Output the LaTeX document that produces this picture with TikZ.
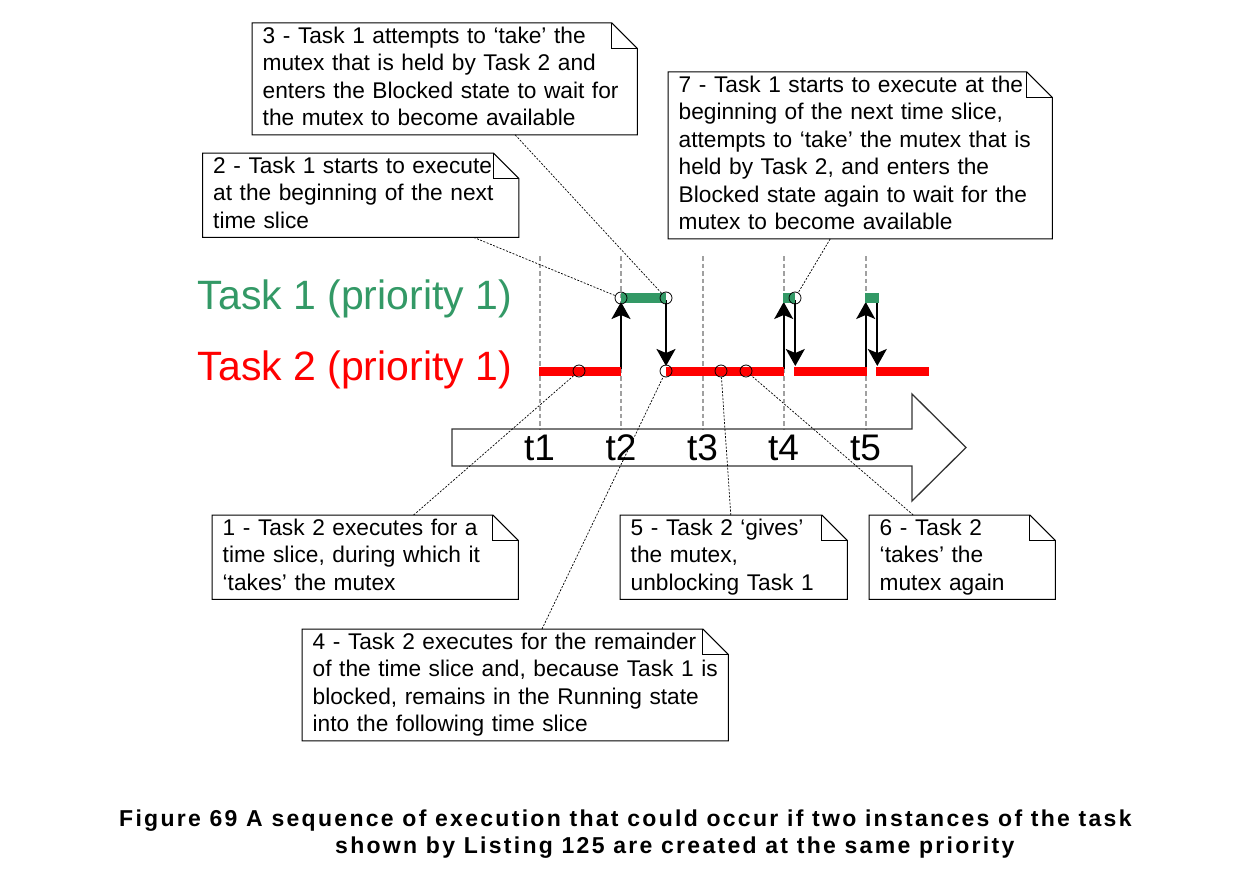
\documentclass[tikz,border=0pt]{standalone}
\usepackage{fontspec}
\setmainfont{Liberation Sans}
\newfontfamily\capfont[LetterSpace=10]{Liberation Sans}
\usetikzlibrary{arrows.meta,calc}
\definecolor{tgreen}{HTML}{339966}
\definecolor{tred}{HTML}{FF0000}
\definecolor{tgray}{HTML}{A0A0A0}
\begin{document}
\begin{tikzpicture}[x=1pt,y=-1pt,
  note/.style={draw=none, fill=white, anchor=north west, inner xsep=10.5pt, inner ysep=0.75pt,
    align=left, font=\fontsize{22.7}{27.5}\selectfont},
  noteline/.style={draw=black, line width=1pt, line join=miter},
  conn/.style={draw=black, line width=0.7pt, dash pattern=on 2pt off 1.5pt},
  tline/.style={draw=tgray, line width=2pt, dash pattern=on 4.5pt off 3pt},
  dot/.style={circle, draw=black, line width=0.8pt, minimum size=12pt, inner sep=0pt},
  arr/.style={draw=black, line width=2pt, -{Stealth[length=17pt,width=19pt,inset=4pt]}},
  redbar/.style={draw=tred, line width=9pt},
  greenbar/.style={draw=tgreen, line width=10pt},
  tlab/.style={anchor=base, inner sep=0pt, font=\fontsize{37}{44}\selectfont},
  tasklab/.style={anchor=base west, inner sep=0pt, font=\fontsize{41}{48}\selectfont},
  caption/.style={anchor=base west, inner sep=0pt, font=\capfont\bfseries\fontsize{23}{27}\selectfont}]
\useasboundingbox (0,0) rectangle (1260,880);

% time lines
\foreach \x in {539.5,621,702.5,783.5,865.5} \draw[tline] (\x,256) -- (\x,429);

% big time arrow
\draw[line width=1.3pt, draw=black!80, line join=miter]
  (452,429) -- (912,429) -- (912,394) -- (966,447.5) -- (912,501) -- (912,466) -- (452,466) -- cycle;
\node[tlab] (t1) at (539.5,460) {t1};
\node[tlab] (t2) at (621,460) {t2};
\node[tlab] (t3) at (702.5,460) {t3};
\node[tlab] (t4) at (783.5,460) {t4};
\node[tlab] (t5) at (865.5,460) {t5};

% arrows
\draw[arr] (621,369) -- (621,302);
\draw[arr] (666,300) -- (666,366);
\draw[arr] (783.7,369) -- (783.7,302);
\draw[arr] (795.3,300) -- (795.3,366);
\draw[arr] (865.7,369) -- (865.7,302);
\draw[arr] (877.3,300) -- (877.3,366);

% bars
\draw[redbar] (539,371) -- (621,371);
\draw[redbar] (666,371) -- (784,371);
\draw[redbar] (794,371) -- (866.5,371);
\draw[redbar] (876,371) -- (929,371);
\draw[greenbar] (621,298) -- (666,298);
\draw[greenbar] (783,298) -- (795,298);
\draw[greenbar] (865,298) -- (879,298);

% circles
\node[dot] (g1) at (621,298) {};
\node[dot] (g2) at (666,298) {};
\node[dot] (g3) at (795,298) {};
\node[dot] (r1) at (579,371) {};
\node[dot] (r2) at (666,371) {};
\node[dot] (r3) at (721,371) {};
\node[dot] (r4) at (746,371) {};

% notes
\node[note, text width=285pt] (n1) at (212,515)
  {\strut 1 - Task 2 executes for a\\ \strut time slice, during which it\\ \strut ‘takes’ the mutex};
\node[note, text width=295pt] (n2) at (202.5,153)
  {\strut 2 - Task 1 starts to execute\\ \strut at the beginning of the next\\ \strut time slice};
\node[note, text width=364pt] (n3) at (252,23)
  {\strut 3 - Task 1 attempts to ‘take’ the\\ \strut mutex that is held by Task 2 and\\ \strut enters the Blocked state to wait for\\ \strut the mutex to become available};
\node[note, text width=405pt] (n4) at (302,629)
  {\strut 4 - Task 2 executes for the remainder\\ \strut\mbox{of the time slice and, because Task 1 is}\\ \strut blocked, remains in the Running state\\ \strut into the following time slice};
\node[note, text width=206pt] (n5) at (620,515)
  {\strut 5 - Task 2 ‘gives’\\ \strut the mutex,\\ \strut unblocking Task 1};
\node[note, text width=165pt] (n6) at (869,515)
  {\strut 6 - Task 2\\ \strut ‘takes’ the\\ \strut mutex again};
\node[note, text width=363pt] (n7) at (668,72)
  {\strut 7 - Task 1 starts to execute at the\\ \strut beginning of the next time slice,\\ \strut attempts to ‘take’ the mutex that is\\ \strut held by Task 2, and enters the\\ \strut Blocked state again to wait for the\\ \strut mutex to become available};

\foreach \n in {n1,n2,n3,n4,n5,n6,n7} {
  \draw[noteline] (\n.north west) -- ([xshift=-25.5pt]\n.north east) -- ([yshift=-25.5pt]\n.north east)
    -- (\n.south east) -- (\n.south west) -- cycle;
  \draw[noteline] ([xshift=-25.5pt]\n.north east) -- ([xshift=-25.5pt,yshift=-25.5pt]\n.north east)
    -- ([yshift=-25.5pt]\n.north east);
}

% connectors (from note border to circle)
\draw[conn] (n1) -- (r1);
\draw[conn] ([xshift=113pt]n2.south) -- (g1);
\draw[conn] ([xshift=70.5pt]n3.south) -- (g2);
\draw[conn] (n4) -- (r2);
\draw[conn] (n5) -- (r3);
\draw[conn] (n6) -- (r4);
\draw[conn] ([xshift=-30pt]n7.south) -- (g3);

% task labels
\node[tasklab, text=tgreen] (task1) at (197.5,309.5) {Task 1 (priority 1)};
\node[tasklab, text=tred] (task2) at (197.5,380) {Task 2 (priority 1)};

% caption
\node[caption] (cap1) at (119,826) {Figure 69 A sequence of execution that could occur if two instances of the task};
\node[caption] (cap2) at (335,853) {shown by Listing 125 are created at the same priority};
\end{tikzpicture}
\end{document}
